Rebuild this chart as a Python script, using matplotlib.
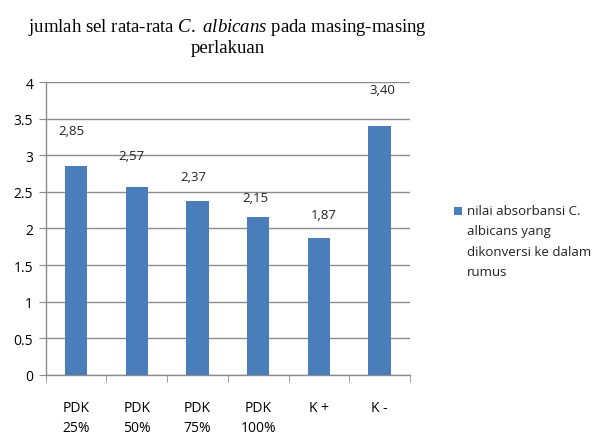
import matplotlib
matplotlib.use("Agg")
import matplotlib.pyplot as plt
from matplotlib.patches import Rectangle
import numpy as np

categories = ["PDK\n25%", "PDK\n50%", "PDK\n75%", "PDK\n100%", "K +", "K -"]
values = [2.85, 2.57, 2.37, 2.15, 1.87, 3.40]
value_labels = ["2,85", "2,57", "2,37", "2,15", "1,87", "3,40"]
yticks = [0, 0.5, 1, 1.5, 2, 2.5, 3, 3.5, 4]
ytick_labels = ["0", "0.5", "1", "1.5", "2", "2.5", "3", "3.5", "4"]
legend_label = "nilai absorbansi C.\nalbicans yang\ndikonversi ke dalam\nrumus"

# hand-placed data labels in the original: offset (px) from bar top
label_dx = [-5, -5, -4, -3, 5, 3]
label_dy = [36, 31, 25, 20, 23, 36]

plt.rcParams.update({
    "font.family": ["Open Sans", "DejaVu Sans"],
    "mathtext.fontset": "custom",
    "mathtext.rm": "Liberation Serif",
    "mathtext.it": "Liberation Serif:italic",
})

bar_color = "#4a7ebb"
grid_color = "#8c8c8c"

fig = plt.figure(figsize=(6.1, 4.35), dpi=100)
ax = fig.add_axes([0.075, 0.136, 0.597, 0.673])

x = np.arange(len(categories))
ax.bar(x, values, width=0.37, color=bar_color, zorder=3)

for xi, v, lab, dx, dy in zip(x, values, value_labels, label_dx, label_dy):
    ax.annotate(lab, (xi, v), xytext=(dx * 0.72, dy * 0.72), textcoords="offset points",
                ha="center", va="center", fontsize=9.5, color="#222222")

ax.set_xlim(-0.5, len(categories) - 0.5)
ax.set_ylim(0, 4)
ax.set_yticks(yticks)
ax.set_yticklabels(ytick_labels, fontsize=10)
ax.set_xticks(x)
ax.set_xticklabels(categories, fontsize=10, linespacing=1.45, va="top")
ax.set_xticks(np.arange(-0.5, len(categories)), minor=True)
ax.tick_params(axis="x", which="major", length=0, pad=18)
ax.tick_params(axis="x", which="minor", length=5, color=grid_color, direction="out")
ax.tick_params(axis="y", length=5, color=grid_color, direction="out", pad=4)

ax.yaxis.grid(True, color=grid_color, linewidth=1.0, zorder=0)
ax.set_axisbelow(True)
for side in ["top", "right"]:
    ax.spines[side].set_visible(False)
for side in ["left", "bottom"]:
    ax.spines[side].set_color(grid_color)
    ax.spines[side].set_linewidth(1.0)

fig.text(0.373, 0.915,
         "jumlah sel rata-rata $\\mathit{C.}$ $\\mathit{albicans}$ pada masing-masing\nperlakuan",
         ha="center", va="center", fontsize=13.5, family="Liberation Serif",
         linespacing=1.1)

# legend: square key beside the first line of the wrapped label
fig.patches.append(Rectangle((0.7445, 0.503), 0.013, 0.018, transform=fig.transFigure,
                             facecolor=bar_color, edgecolor="none"))
fig.text(0.765, 0.529, legend_label, ha="left", va="top", fontsize=9.5,
         linespacing=1.75, color="#222222")

fig.savefig("out.png", dpi=100, facecolor="white")
